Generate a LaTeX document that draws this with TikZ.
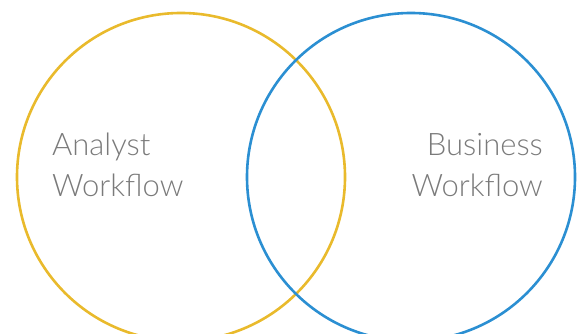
\documentclass[tikz,border=0pt]{standalone}
\usepackage{fontspec}
\setmainfont{Lato Light}
\definecolor{cyel}{HTML}{E9BA2C}
\definecolor{cblue}{HTML}{2B8FD2}
\definecolor{ctxt}{HTML}{7A7A7A}
\begin{document}
\begin{tikzpicture}[x=1pt,y=-1pt,
  ring/.style={line width=2.6pt,circle,minimum size=328pt,inner sep=0pt,outer sep=0pt},
  lbl/.style={text=ctxt,font=\fontsize{31}{41}\selectfont,inner sep=0pt}]
\useasboundingbox (0,0) rectangle (578,334);
\node[ring,draw=cyel] (left) at (181,177) {};
\node[ring,draw=cblue] (right) at (411,177) {};
\node[lbl,anchor=base west,align=left] (a) at (52,196) {Analyst\\Workflow};
\node[lbl,anchor=base east,align=right] (b) at (543,196) {Business\\Workflow};
\end{tikzpicture}
\end{document}
